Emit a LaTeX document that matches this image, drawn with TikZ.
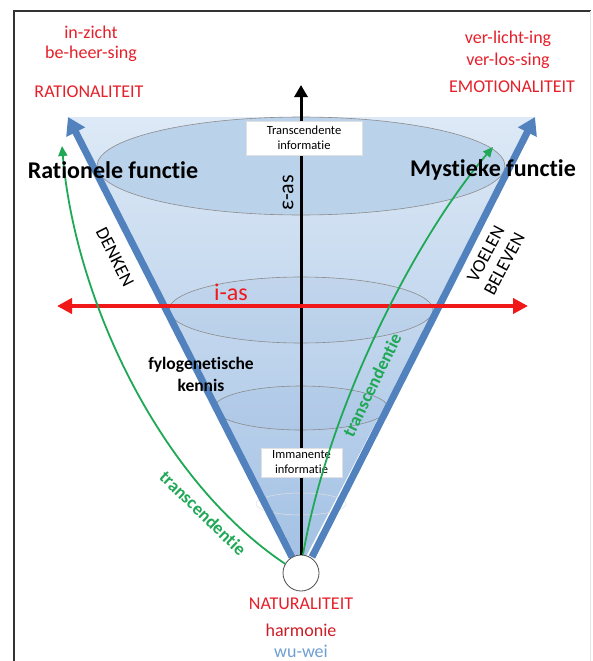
\documentclass[tikz,border=0pt]{standalone}
\usepackage{fontspec}
\setmainfont{Carlito}[Ligatures=NoCommon, RawFeature={-liga;-clig;-calt;-dlig}]
\usetikzlibrary{arrows.meta}
\definecolor{edgeblue}{HTML}{5282BD}
\definecolor{conetop}{HTML}{DDE9F6}
\definecolor{conebot}{HTML}{A3C1E4}
\definecolor{ellfill}{HTML}{BBD2EB}
\definecolor{txtred}{HTML}{E5202A}
\definecolor{axred}{HTML}{F01818}
\definecolor{grn}{HTML}{1FA855}
\definecolor{wublue}{HTML}{6E9FD2}
\tikzset{
  redtxt/.style={text=txtred, font=\fontsize{18}{20}\selectfont, inner sep=0pt},
  bigbold/.style={font=\bfseries\fontsize{24}{26}\selectfont, inner sep=0pt},
  midbold/.style={font=\bfseries\fontsize{17.5}{22}\selectfont, align=center, inner sep=0pt},
  sidetxt/.style={font=\fontsize{18.5}{21}\selectfont, align=center, inner sep=0pt},
  greentxt/.style={text=grn, font=\bfseries\fontsize{18}{20}\selectfont, inner sep=0pt},
  infobox/.style={fill=white, draw=black!12, align=center, font=\fontsize{12.5}{15}\selectfont, inner sep=0pt},
  edgearrow/.style={draw=edgeblue, line width=7pt, -{Triangle[width=20pt,length=17pt]}},
  grnarrow/.style={draw=grn, line width=1.8pt, -{Triangle[width=9pt,length=10pt]}},
  ellipseline/.style={draw=black!45, line width=0.6pt},
}
\begin{document}
\begin{tikzpicture}[x=1pt,y=-1pt]
\useasboundingbox (0,0) rectangle (593,661);
\fill[white] (0,0) rectangle (593,661);
% frame
\draw[black!80, line width=1.4pt] (14,661) -- (14,11) -- (591,11);
\draw[black!10, line width=1pt] (590,11) -- (590,661);

% cone fill
\shade[top color=conetop, bottom color=conebot] (68,117) -- (535,117) -- (301,566) -- cycle;

% ellipses
\path[fill=ellfill, ellipseline] (301,166) ellipse [x radius=204, y radius=49];
\path[fill=edgeblue, fill opacity=0.06, ellipseline] (301,310) ellipse [x radius=132, y radius=33];
\path[fill=edgeblue, fill opacity=0.06, ellipseline] (301,408) ellipse [x radius=87, y radius=22];
\path[draw=black!12, line width=0.5pt] (301,504) ellipse [x radius=45, y radius=11];

% coordinates
\coordinate (lbot) at (292,557);
\coordinate (ltop) at (68,117);
\coordinate (rbot) at (312,557);
\coordinate (rtop) at (535,117);
\coordinate (etop) at (301,85);
\coordinate (iL) at (57,306);
\coordinate (iR) at (528,306);
\coordinate (gLtip) at (62,146);
\coordinate (gRtip) at (493,147);

% cone edges
\draw[edgearrow] (lbot) -- (ltop);
\draw[edgearrow] (rbot) -- (rtop);

% apex circle
\node[circle, draw=black!70, fill=white, line width=0.8pt, minimum size=36pt, inner sep=0pt] (nat) at (301,573) {};

% epsilon axis
\draw[black, line width=3pt, -{Triangle[width=13pt,length=12pt]}] (nat.north) -- (etop);

% info boxes
\node[infobox, minimum width=116pt, minimum height=34pt] (trans) at (304,138) {Transcendente\\informatie};
\node[infobox, minimum width=81pt, minimum height=29pt] (imm) at (301.5,462.5) {Immanente\\informatie};

% i-axis
\draw[axred, line width=4pt, {Triangle[width=15pt,length=15pt]}-{Triangle[width=15pt,length=15pt]}] (iL) -- (iR);

% green arrows
\draw[grnarrow] (nat.150) .. controls (160,480) and (75,300) .. (gLtip);
\draw[grnarrow] (nat.north) ++(2,0) .. controls (330,400) and (420,232) .. (gRtip);

% texts
\node[redtxt] (t1) at (91,32) {in-zicht};
\node[redtxt] (t2) at (91,54) {be-heer-sing};
\node[redtxt] (t3) at (89,92) {RATIONALITEIT};
\node[redtxt] (t4) at (508,39) {ver-licht-ing};
\node[redtxt] (t5) at (508,61) {ver-los-sing};
\node[redtxt] (t6) at (512,87) {EMOTIONALITEIT};

\node[bigbold] (rf) at (113,170) {Rationele functie};
\node[bigbold] (mf) at (493,170) {Mystieke functie};

\node[font=\fontsize{22}{24}\selectfont, inner sep=0pt, rotate=90] (eps) at (288,193) {ε-as};
\node[text=axred, font=\fontsize{24}{26}\selectfont, inner sep=0pt] (ias) at (231,292) {i-as};

\node[sidetxt, rotate=-63] (denken) at (115,257) {DENKEN};
\node[sidetxt, rotate=62] (voelen) at (495,259) {VOELEN\\BELEVEN};

\node[midbold] (fylo) at (201,374) {fylogenetische\\kennis};

\node[greentxt, rotate=-44] (trL) at (203,513) {transcendentie};
\node[greentxt, rotate=64] (trR) at (372,385) {transcendentie};

\node[redtxt] (b1) at (301,604) {NATURALITEIT};
\node[text=txtred!90!black, font=\fontsize{18}{20}\selectfont, inner sep=0pt] (b2) at (301,630) {harmonie};
\node[text=wublue, font=\fontsize{18}{20}\selectfont, inner sep=0pt] (b3) at (301,651) {wu-wei};
\end{tikzpicture}
\end{document}
